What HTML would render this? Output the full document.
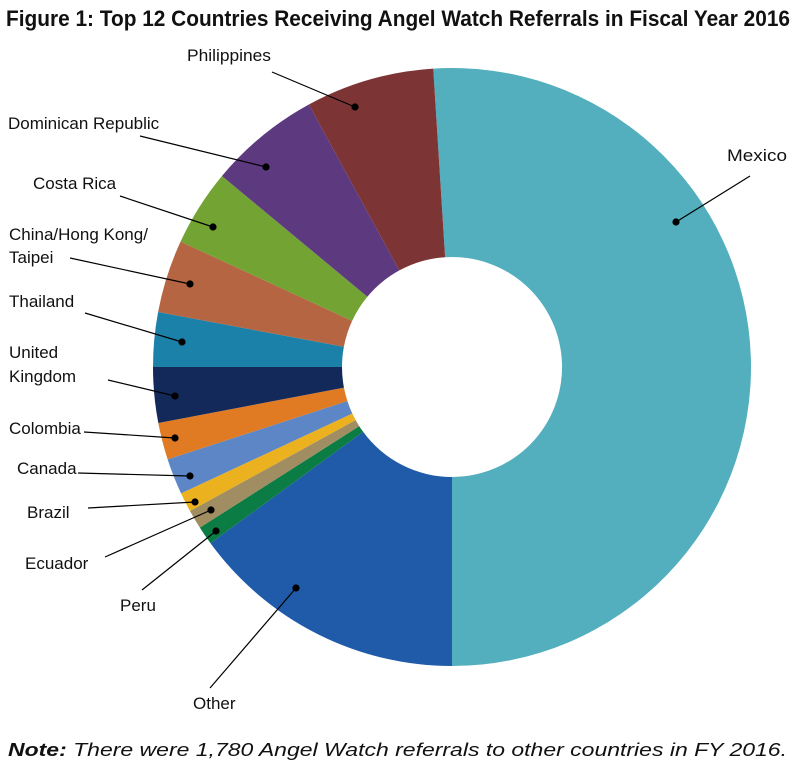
<!DOCTYPE html>
<html><head><meta charset="utf-8"><style>
body{margin:0;background:#fff;width:801px;height:768px;overflow:hidden}
svg{display:block}
text{font-family:"Liberation Sans Narrow","Liberation Sans",sans-serif;fill:#111}
</style></head><body>
<svg id="s" width="801" height="768" viewBox="0 0 801 768">
<text x="6" y="26" font-size="22" font-weight="bold" textLength="784" lengthAdjust="spacingAndGlyphs">Figure 1: Top 12 Countries Receiving Angel Watch Referrals in Fiscal Year 2016</text>
<g id="pie"></g>
<g stroke="#000" stroke-width="1.2" fill="#000" id="lines">
<line x1="272" y1="72" x2="355" y2="107"/><circle cx="355" cy="107" r="3"/>
<line x1="750" y1="176" x2="676" y2="222"/><circle cx="676" cy="222" r="3"/>
<line x1="140" y1="136" x2="266" y2="167"/><circle cx="266" cy="167" r="3"/>
<line x1="120" y1="196" x2="213" y2="227"/><circle cx="213" cy="227" r="3"/>
<line x1="70" y1="258" x2="190" y2="284"/><circle cx="190" cy="284" r="3"/>
<line x1="85" y1="313" x2="182" y2="342"/><circle cx="182" cy="342" r="3"/>
<line x1="108" y1="380" x2="175" y2="396"/><circle cx="175" cy="396" r="3"/>
<line x1="84" y1="432" x2="175" y2="438"/><circle cx="175" cy="438" r="3"/>
<line x1="78" y1="473" x2="190" y2="476"/><circle cx="190" cy="476" r="3"/>
<line x1="88" y1="508" x2="195" y2="502"/><circle cx="195" cy="502" r="3"/>
<line x1="105" y1="557" x2="211" y2="510"/><circle cx="211" cy="510" r="3"/>
<line x1="142" y1="590" x2="216" y2="531"/><circle cx="216" cy="531" r="3"/>
<line x1="210" y1="688" x2="296" y2="588"/><circle cx="296" cy="588" r="3"/>
</g>
<g font-size="17">
<text x="187" y="61" textLength="84" lengthAdjust="spacingAndGlyphs">Philippines</text>
<text x="727" y="161" textLength="60" lengthAdjust="spacingAndGlyphs">Mexico</text>
<text x="8" y="129">Dominican Republic</text>
<text x="33" y="189">Costa Rica</text>
<text x="9" y="240">China/Hong Kong/</text>
<text x="9" y="263">Taipei</text>
<text x="9" y="307">Thailand</text>
<text x="9" y="358">United</text>
<text x="9" y="382">Kingdom</text>
<text x="9" y="434">Colombia</text>
<text x="17" y="474">Canada</text>
<text x="27" y="518">Brazil</text>
<text x="25" y="569">Ecuador</text>
<text x="120" y="611">Peru</text>
<text x="193" y="709">Other</text>
</g>
<text x="8" y="756" font-size="18" font-style="italic" textLength="779" lengthAdjust="spacingAndGlyphs"><tspan font-weight="bold">Note:</tspan> There were 1,780 Angel Watch referrals to other countries in FY 2016.</text>
</svg>
<script>
var cx=452,cy=367,R=299,r=110;
var segs=[[-3.6,180,"#53AFBE"],[180,233.9,"#1F5BA8"],[233.9,237.5,"#0B7C43"],[237.5,241.2,"#A08E62"],[241.2,245,"#EBB11E"],[245,252,"#5C86C6"],[252,259.2,"#E07B24"],[259.2,270,"#13295A"],[270,280.6,"#1B81A9"],[280.6,294.8,"#B66542"],[294.8,309.7,"#72A333"],[309.7,331.4,"#5D3A80"],[331.4,356.4,"#7D3434"]];
function p(a,rad){a=a*Math.PI/180;return (cx+rad*Math.sin(a)).toFixed(2)+","+(cy-rad*Math.cos(a)).toFixed(2);}
var h="";
segs.forEach(function(s){var l=(s[1]-s[0])>180?1:0;
h+='<path fill="'+s[2]+'" d="M'+p(s[0],R)+' A'+R+','+R+' 0 '+l+' 1 '+p(s[1],R)+' L'+p(s[1],r)+' A'+r+','+r+' 0 '+l+' 0 '+p(s[0],r)+' Z"/>';});
document.getElementById("pie").innerHTML=h;
</script>
</body></html>
